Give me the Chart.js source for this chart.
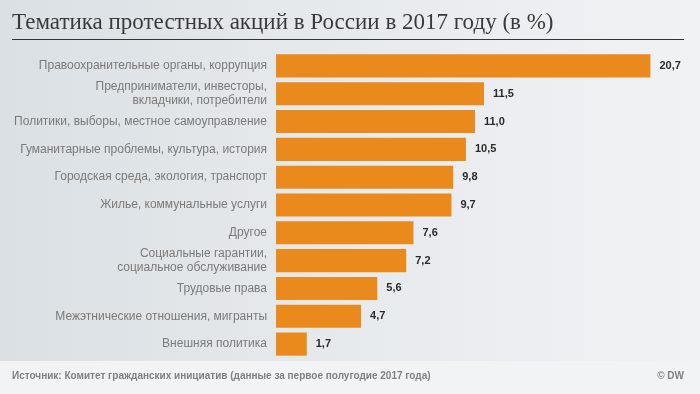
<!DOCTYPE html>
<html>
<head>
<meta charset="utf-8">
<script src="https://cdn.jsdelivr.net/npm/chart.js@4"></script>
<style>
  html, body { margin: 0; padding: 0; }
</style>
</head>
<body>
<canvas id="myChart" width="700" height="394"></canvas>
<script>
// данные
var categories = [
    'Правоохранительные органы, коррупция',
    ['Предприниматели, инвесторы,', 'вкладчики, потребители'],
    'Политики, выборы, местное самоуправление',
    'Гуманитарные проблемы, культура, история',
    'Городская среда, экология, транспорт',
    'Жилье, коммунальные услуги',
    'Другое',
    ['Социальные гарантии,', 'социальное обслуживание'],
    'Трудовые права',
    'Межэтнические отношения, мигранты',
    'Внешняя политика'
];
var values = [20.7, 11.5, 11.0, 10.5, 9.8, 9.7, 7.6, 7.2, 5.6, 4.7, 1.7];
var valueLabels = ['20,7', '11,5', '11,0', '10,5', '9,8', '9,7', '7,6', '7,2', '5,6', '4,7', '1,7'];
var titleText = 'Тематика протестных акций в России в 2017 году (в %)';
var sourceText = 'Источник: Комитет гражданских инициатив (данные за первое полугодие 2017 года)';

// фон, заголовок, подписи
var decor = {
    id: 'decor',
    beforeDraw: function(chart) {
        var c = chart.ctx, w = chart.width, h = chart.height;
        c.save();
        var g = c.createLinearGradient(0, 0, w, 0);
        g.addColorStop(0, '#dae0e4');
        g.addColorStop(0.5, '#e7eaed');
        g.addColorStop(1, '#f1f2f4');
        c.fillStyle = g;
        c.fillRect(0, 0, w, h);
        c.fillStyle = '#f2f3f5';
        c.fillRect(0, 361, w, h - 361);
        c.restore();
    },
    afterDraw: function(chart) {
        var c = chart.ctx;
        c.save();
        c.fillStyle = '#3a3a3a';
        c.font = '23px "Liberation Serif", "DejaVu Serif", serif';
        c.textBaseline = 'alphabetic';
        c.textAlign = 'left';
        c.fillText(titleText, 12, 29);
        c.strokeStyle = '#333';
        c.lineWidth = 1;
        c.beginPath();
        c.moveTo(12, 39.5);
        c.lineTo(684, 39.5);
        c.stroke();

        c.fillStyle = '#808080';
        c.font = 'bold 10px "Liberation Sans", Arial, sans-serif';
        c.textBaseline = 'middle';
        c.fillText(sourceText, 12, 376);
        c.textAlign = 'right';
        c.fillText('© DW', 684, 376);

        // значения у столбцов
        var meta = chart.getDatasetMeta(0);
        c.fillStyle = '#2b2b2b';
        c.font = 'bold 11px "Liberation Sans", Arial, sans-serif';
        c.textAlign = 'left';
        meta.data.forEach(function(bar, i) {
            c.fillText(valueLabels[i], bar.x + 9, bar.y);
        });
        c.restore();
    }
};

var ctx = document.getElementById('myChart').getContext('2d');
var myChart = new Chart(ctx, {
    type: 'bar',
    data: {
        labels: categories,
        datasets: [{
            data: values,
            backgroundColor: '#ea8a1d',
            borderWidth: 0,
            barPercentage: 0.83,
            categoryPercentage: 1
        }]
    },
    options: {
        indexAxis: 'y',
        responsive: false,
        animation: false,
        devicePixelRatio: 1,
        layout: {
            padding: { left: 0, right: 8, top: 52, bottom: 36 }
        },
        scales: {
            x: {
                display: false,
                min: 0,
                max: 23
            },
            y: {
                grid: { display: false },
                border: { display: false },
                afterFit: function(scale) { scale.width = 276; },
                ticks: {
                    color: '#7a7a7a',
                    padding: 1,
                    autoSkip: false,
                    font: { family: '"Liberation Sans", Arial, sans-serif', size: 12, lineHeight: 1.1 }
                }
            }
        },
        plugins: {
            legend: { display: false },
            tooltip: { enabled: false }
        }
    },
    plugins: [decor]
});
</script>
</body>
</html>
